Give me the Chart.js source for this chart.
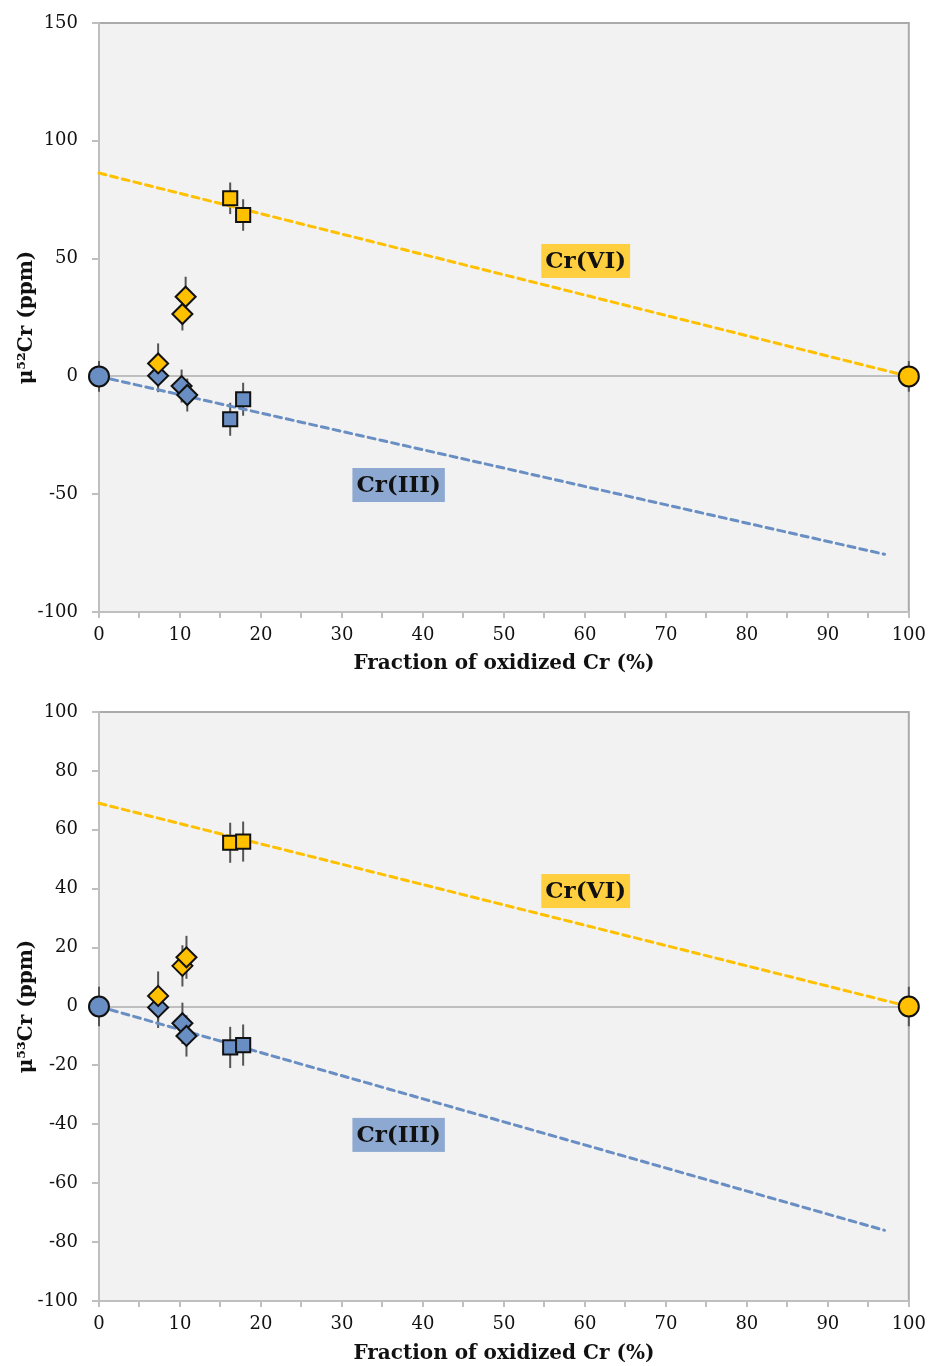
<!DOCTYPE html>
<html>
<head>
<meta charset="utf-8">
<script src="https://cdn.jsdelivr.net/npm/chart.js@4.4.0/dist/chart.umd.min.js"></script>
<style>
  body { margin: 0; background: #fff; }
  canvas { display: block; }
</style>
</head>
<body>
<canvas id="chart52" width="929" height="683"></canvas>
<canvas id="chart53" width="929" height="683"></canvas>
<script>
// ===== shared =====
const mixLineX = [0, 100];     // Cr(VI) mixing line
const redLineX = [0, 97];      // Cr(III) mixing line
const endMemberX = [0, 100];   // Cr(III) end member at 0, Cr(VI) end member at 100
const boxTexts = ["Cr(VI)", "Cr(III)"];

// ===== mu52Cr =====
const cr6Line52 = [86.3, 0];
const cr3Line52 = [0, -75.5];
const endMemberY52 = [0, 0];
const endMemberErr52 = [6.5, 6.5];
const sqX = [16.2, 17.8];
const cr6Sq52 = [75.6, 68.5];
const cr6SqErr52 = [6.7, 6.7];
const cr3Sq52 = [-18.2, -9.7];
const cr3SqErr52 = [7, 7];
const cr6DiaX52 = [7.3, 10.3, 10.7];
const cr6Dia52 = [5.5, 26.5, 33.8];
const cr6DiaErr52 = [8.5, 7, 8.5];
const cr3DiaX52 = [7.3, 10.2, 10.9];
const cr3Dia52 = [0.3, -4.1, -7.9];
const cr3DiaErr52 = [7, 7, 7];
const boxAt52 = [[60.1, 49], [37, -46.1]];

// ===== mu53Cr =====
const cr6Line53 = [69, 0];
const cr3Line53 = [0, -76];
const endMemberY53 = [0, 0];
const endMemberErr53 = [6.7, 6.7];
const cr6Sq53 = [55.6, 56];
const cr6SqErr53 = [6.8, 6.8];
const cr3Sq53 = [-13.9, -13.1];
const cr3SqErr53 = [7, 7];
const cr6DiaX53 = [7.3, 10.3, 10.8];
const cr6Dia53 = [3.6, 13.8, 16.7];
const cr6DiaErr53 = [8.3, 7, 7.3];
const cr3DiaX53 = [7.3, 10.3, 10.8];
const cr3Dia53 = [-0.3, -5.7, -10];
const cr3DiaErr53 = [7, 7, 7];
const boxAt53 = [[60.1, 39.2], [37, -43.6]];

const YELLOW = "#FFC000";
const BLUE = "#698EC3";
const pts = (xs, ys) => xs.map((x, i) => ({ x: x, y: ys[i] }));

function marker(xs, ys, errs, color, style, r) {
    return {
        type: "scatter",
        data: pts(xs, ys),
        errY: errs,
        backgroundColor: color,
        borderColor: "#111",
        borderWidth: 2,
        pointStyle: style,
        pointRadius: r,
        pointHoverRadius: r,
        clip: false
    };
}

function dashed(xs, ys, color) {
    return {
        type: "line",
        data: pts(xs, ys),
        borderColor: color,
        borderWidth: 3,
        borderDash: [7, 5],
        borderCapStyle: "round",
        pointRadius: 0,
        fill: false,
        clip: false
    };
}

// plot background, frame, error bars and the Cr labels
const decor = {
    id: "decor",
    beforeDraw(chart) {
        const { ctx, chartArea: a } = chart;
        ctx.save();
        ctx.fillStyle = "#f2f2f2";
        ctx.fillRect(a.left, a.top, a.right - a.left, a.bottom - a.top);
        ctx.strokeStyle = "#aaaaaa";
        ctx.lineWidth = 2;
        ctx.strokeRect(a.left, a.top, a.right - a.left, a.bottom - a.top);
        ctx.restore();
    },
    beforeDatasetsDraw(chart) {
        const { ctx, scales: { x, y } } = chart;
        ctx.save();
        ctx.strokeStyle = "#555";
        ctx.lineWidth = 2;
        chart.data.datasets.forEach(ds => {
            if (!ds.errY) return;
            ds.data.forEach((p, i) => {
                const px = x.getPixelForValue(p.x);
                ctx.beginPath();
                ctx.moveTo(px, y.getPixelForValue(p.y + ds.errY[i]));
                ctx.lineTo(px, y.getPixelForValue(p.y - ds.errY[i]));
                ctx.stroke();
            });
        });
        ctx.restore();
    },
    afterDatasetsDraw(chart, args, opts) {
        const { ctx, scales: { x, y } } = chart;
        ctx.save();
        ctx.font = "bold 23px 'DejaVu Serif'";
        ctx.textAlign = "center";
        ctx.textBaseline = "middle";
        const fills = ["#FFCF40", "#8DA9D1"];
        opts.at.forEach((pos, i) => {
            const cx = x.getPixelForValue(pos[0]);
            const cy = y.getPixelForValue(pos[1]);
            const w = ctx.measureText(boxTexts[i]).width + 8;
            ctx.fillStyle = fills[i];
            ctx.fillRect(cx - w / 2, cy - 17, w, 34);
            ctx.fillStyle = "#111";
            ctx.fillText(boxTexts[i], cx, cy + 1);
        });
        ctx.restore();
    }
};

function makeChart(id, sets, yMin, yMax, yStep, yTitle, boxes, padTop, xHeight, titlePad) {
    return new Chart(document.getElementById(id), {
        data: { datasets: sets },
        plugins: [decor],
        options: {
            responsive: false,
            animation: false,
            layout: { padding: { top: padTop, right: 20, left: 0, bottom: 0 } },
            plugins: {
                legend: { display: false },
                tooltip: { enabled: false },
                decor: { at: boxes }
            },
            scales: {
                x: {
                    type: "linear",
                    min: 0, max: 100,
                    afterFit: s => { s.height = xHeight; },
                    border: { color: "#bfbfbf", width: 2 },
                    grid: { drawOnChartArea: false, tickLength: 6, tickColor: "#bfbfbf", lineWidth: 2 },
                    ticks: {
                        stepSize: 5, autoSkip: false, maxRotation: 0, padding: 3,
                        color: "#111",
                        font: { family: "'DejaVu Serif'", size: 18, lineHeight: 1.55 },
                        callback: v => (v % 10 === 0 ? v : "")
                    },
                    title: {
                        display: true,
                        text: "Fraction of oxidized Cr (%)",
                        color: "#111",
                        font: { family: "'DejaVu Serif'", size: 20, weight: "bold" },
                        padding: { top: 0, bottom: titlePad }
                    }
                },
                y: {
                    type: "linear",
                    min: yMin, max: yMax,
                    afterFit: s => { s.width = 99; },
                    border: { color: "#bfbfbf", width: 2 },
                    grid: {
                        color: c => (c.tick && c.tick.value === 0 ? "#bfbfbf" : "transparent"),
                        lineWidth: 2, tickLength: 7, tickColor: "#bfbfbf"
                    },
                    ticks: {
                        stepSize: yStep, padding: 14,
                        color: "#111",
                        font: { family: "'DejaVu Serif'", size: 18, lineHeight: 1 }
                    },
                    title: {
                        display: true,
                        text: yTitle,
                        color: "#111",
                        font: { family: "'DejaVu Serif'", size: 20, weight: "bold" },
                        padding: { top: 15, bottom: 0 }
                    }
                }
            }
        }
    });
}

makeChart("chart52", [
    marker([endMemberX[1]], [endMemberY52[1]], [endMemberErr52[1]], YELLOW, "circle", 10),
    marker([endMemberX[0]], [endMemberY52[0]], [endMemberErr52[0]], BLUE, "circle", 10),
    marker(sqX, cr6Sq52, cr6SqErr52, YELLOW, "rect", 10),
    marker(cr6DiaX52, cr6Dia52, cr6DiaErr52, YELLOW, "rectRot", 10),
    marker(sqX, cr3Sq52, cr3SqErr52, BLUE, "rect", 10),
    marker(cr3DiaX52, cr3Dia52, cr3DiaErr52, BLUE, "rectRot", 10),
    dashed(mixLineX, cr6Line52, YELLOW),
    dashed(redLineX, cr3Line52, BLUE)
], -100, 150, 50, "\u03BC\u2075\u00B2Cr (ppm)", boxAt52, 21, 71, 7);

makeChart("chart53", [
    marker([endMemberX[1]], [endMemberY53[1]], [endMemberErr53[1]], YELLOW, "circle", 10),
    marker([endMemberX[0]], [endMemberY53[0]], [endMemberErr53[0]], BLUE, "circle", 10),
    marker(sqX, cr6Sq53, cr6SqErr53, YELLOW, "rect", 10),
    marker(cr6DiaX53, cr6Dia53, cr6DiaErr53, YELLOW, "rectRot", 10),
    marker(sqX, cr3Sq53, cr3SqErr53, BLUE, "rect", 10),
    marker(cr3DiaX53, cr3Dia53, cr3DiaErr53, BLUE, "rectRot", 10),
    dashed(mixLineX, cr6Line53, YELLOW),
    dashed(redLineX, cr3Line53, BLUE)
], -100, 100, 20, "\u03BC\u2075\u00B3Cr (ppm)", boxAt53, 29, 65, 0);
</script>
</body>
</html>
